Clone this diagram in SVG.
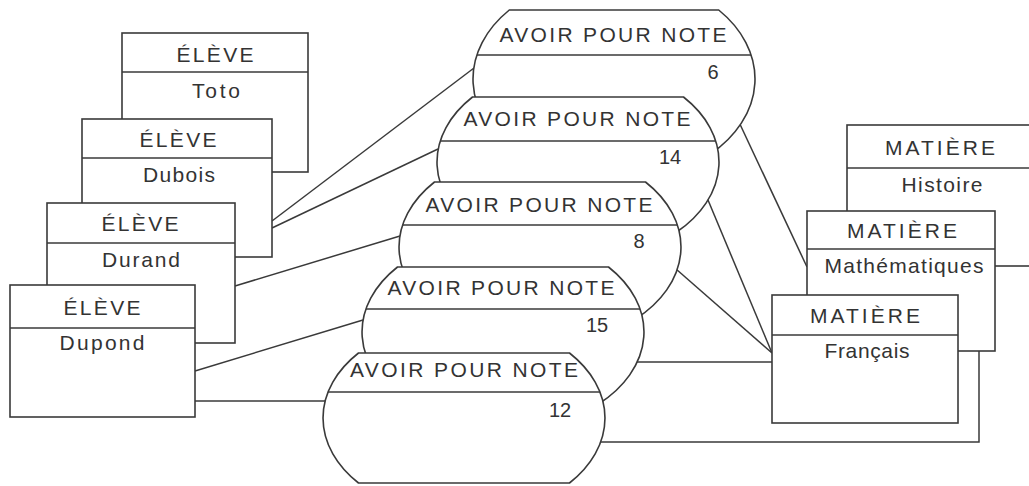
<svg xmlns="http://www.w3.org/2000/svg" width="1029" height="486" viewBox="0 0 1029 486">
<style>
  .box { fill: #ffffff; stroke: #3a3a3a; stroke-width: 1.6; }
  .div { stroke: #3a3a3a; stroke-width: 1.5; fill: none; }
  .con { stroke: #3a3a3a; stroke-width: 1.5; fill: none; }
  .t { font-family: "Liberation Sans", Arial, sans-serif; font-size: 21px; fill: #333333; text-anchor: middle; }
  .n { font-family: "Liberation Sans", Arial, sans-serif; font-size: 20px; fill: #333333; text-anchor: middle; }
</style>
<rect width="1029" height="486" fill="#ffffff"/>

<g id="connectors">
  <path class="con" d="M272 221 L474 68"/>
  <path class="con" d="M272 228 L438 149"/>
  <path class="con" d="M235 286 L400 236"/>
  <path class="con" d="M195 371 L363 320"/>
  <path class="con" d="M195 401 L326 401"/>
  <path class="con" d="M738 120 L807 267"/>
  <path class="con" d="M708 200 L772 353"/>
  <path class="con" d="M676 269 L772 353"/>
  <path class="con" d="M632 362 L772 362"/>
  <path class="con" d="M595 442 H979 V351"/>
</g>

<g id="eleve-toto">
  <rect class="box" x="122" y="33" width="186" height="139"/>
  <line class="div" x1="122" y1="72" x2="308" y2="72"/>
  <text class="t" x="215" y="62" textLength="77" lengthAdjust="spacing">ÉLÈVE</text>
  <text class="t" x="216" y="98" textLength="48" lengthAdjust="spacing">Toto</text>
</g>
<g id="eleve-dubois">
  <rect class="box" x="82" y="119" width="190" height="138"/>
  <line class="div" x1="82" y1="158" x2="272" y2="158"/>
  <text class="t" x="178" y="147" textLength="77" lengthAdjust="spacing">ÉLÈVE</text>
  <text class="t" x="179" y="182" textLength="72" lengthAdjust="spacing">Dubois</text>
</g>
<g id="eleve-durand">
  <rect class="box" x="47" y="203" width="188" height="140"/>
  <line class="div" x1="47" y1="243" x2="235" y2="243"/>
  <text class="t" x="140" y="231" textLength="77" lengthAdjust="spacing">ÉLÈVE</text>
  <text class="t" x="141" y="267" textLength="78" lengthAdjust="spacing">Durand</text>
</g>
<g id="eleve-dupond">
  <rect class="box" x="10" y="285" width="185" height="132"/>
  <line class="div" x1="10" y1="328" x2="195" y2="328"/>
  <text class="t" x="102" y="315" textLength="77" lengthAdjust="spacing">ÉLÈVE</text>
  <text class="t" x="102" y="350" textLength="85" lengthAdjust="spacing">Dupond</text>
</g>

<g id="note-6">
  <path class="box" d="M509.3 10 H718.7 A141 103 0 0 1 710.6 154 H517.4 A141 103 0 0 1 509.3 10 Z"/>
  <line class="div" x1="476.9" y1="55" x2="751.1" y2="55"/>
  <text class="t" x="613" y="42" textLength="227" lengthAdjust="spacing">AVOIR POUR NOTE</text>
  <text class="n" x="713" y="79">6</text>
</g>
<g id="note-14">
  <path class="box" d="M472.5 97 H683.5 A141 98 0 0 1 676.7 232 H479.3 A141 98 0 0 1 472.5 97 Z"/>
  <line class="div" x1="440.3" y1="141" x2="715.7" y2="141"/>
  <text class="t" x="577" y="126" textLength="227" lengthAdjust="spacing">AVOIR POUR NOTE</text>
  <text class="n" x="670" y="164">14</text>
</g>
<g id="note-8">
  <path class="box" d="M434.5 182 H645.5 A141 98 0 0 1 635.6 319 H444.4 A141 98 0 0 1 434.5 182 Z"/>
  <line class="div" x1="402.6" y1="225" x2="677.4" y2="225"/>
  <text class="t" x="539" y="212" textLength="227" lengthAdjust="spacing">AVOIR POUR NOTE</text>
  <text class="n" x="639" y="248">8</text>
</g>
<g id="note-15">
  <path class="box" d="M397.5 267 H608.5 A141 98 0 0 1 598.6 404 H407.4 A141 98 0 0 1 397.5 267 Z"/>
  <line class="div" x1="365.9" y1="309" x2="640.1" y2="309"/>
  <text class="t" x="501" y="295" textLength="227" lengthAdjust="spacing">AVOIR POUR NOTE</text>
  <text class="n" x="597" y="332">15</text>
</g>
<g id="note-12">
  <path class="box" d="M358.5 353 H569.5 A141 98 0 0 1 569.5 483 H358.5 A141 98 0 0 1 358.5 353 Z"/>
  <line class="div" x1="328.1" y1="392" x2="599.9" y2="392"/>
  <text class="t" x="464" y="377" textLength="228" lengthAdjust="spacing">AVOIR POUR NOTE</text>
  <text class="n" x="560" y="417">12</text>
</g>

<g id="matiere-histoire">
  <rect class="box" x="847" y="125" width="192" height="141"/>
  <line class="div" x1="847" y1="168" x2="1039" y2="168"/>
  <text class="t" x="940" y="155" textLength="110" lengthAdjust="spacing">MATIÈRE</text>
  <text class="t" x="942" y="192" textLength="81" lengthAdjust="spacing">Histoire</text>
</g>
<g id="matiere-mathematiques">
  <rect class="box" x="807" y="211" width="188" height="140"/>
  <line class="div" x1="807" y1="249" x2="995" y2="249"/>
  <text class="t" x="902" y="238" textLength="110" lengthAdjust="spacing">MATIÈRE</text>
  <text class="t" x="904" y="273" textLength="159" lengthAdjust="spacing">Mathématiques</text>
</g>
<g id="matiere-francais">
  <rect class="box" x="772" y="295" width="186" height="128"/>
  <line class="div" x1="772" y1="335" x2="958" y2="335"/>
  <text class="t" x="865" y="323" textLength="110" lengthAdjust="spacing">MATIÈRE</text>
  <text class="t" x="867" y="358" textLength="85" lengthAdjust="spacing">Français</text>
</g>
</svg>
